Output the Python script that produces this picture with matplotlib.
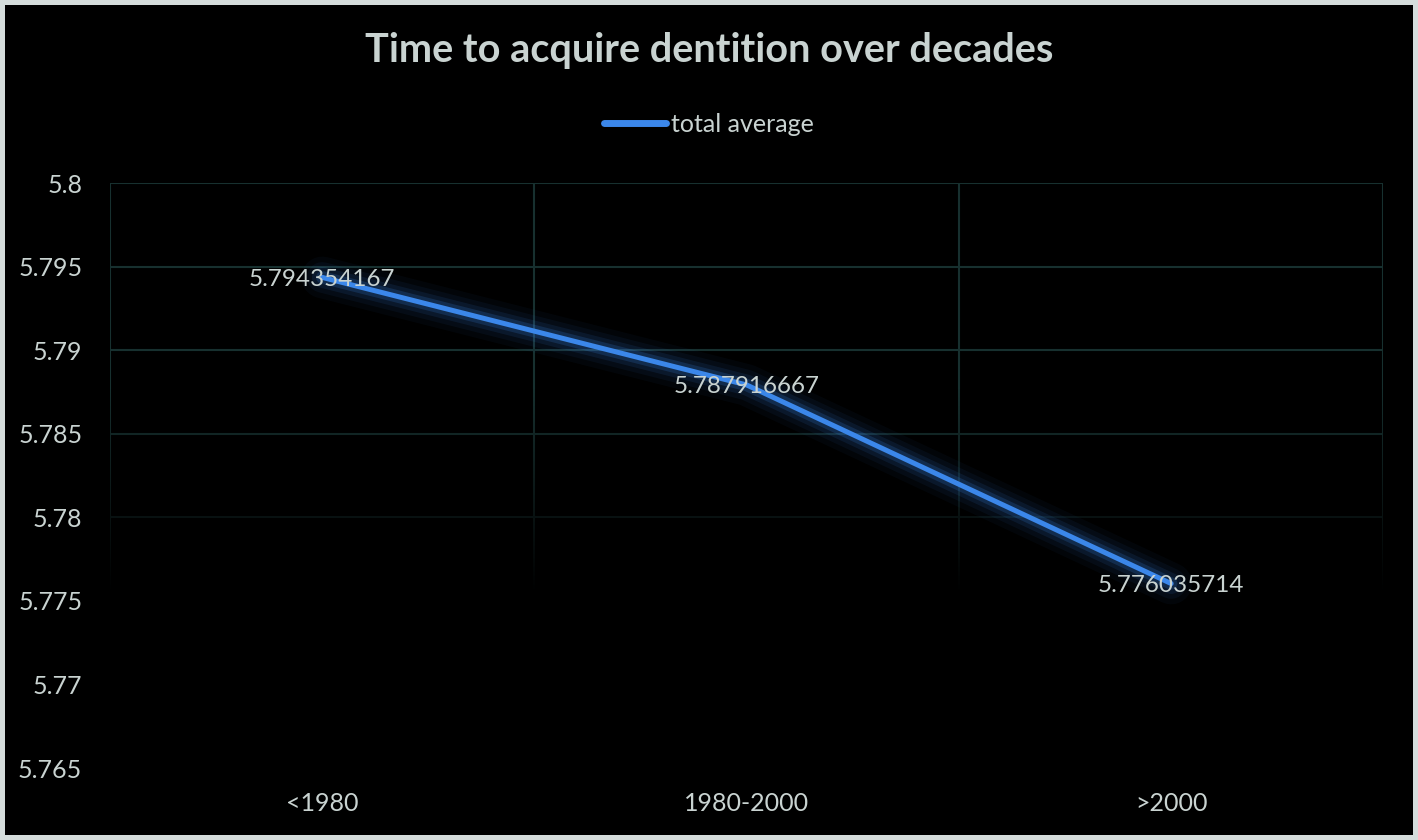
import numpy as np
import matplotlib
matplotlib.use("Agg")
import matplotlib.pyplot as plt

# data
categories = ["<1980", "1980-2000", ">2000"]
total_average = [5.794354167, 5.787916667, 5.776035714]
y_ticks = [5.765, 5.77, 5.775, 5.78, 5.785, 5.79, 5.795, 5.8]
y_tick_labels = ["5.765", "5.77", "5.775", "5.78", "5.785", "5.79", "5.795", "5.8"]

plt.rcParams['font.family'] = ['Lato', 'DejaVu Sans']
txt = '#c9d3d1'
blue = '#3b87ea'

fig = plt.figure(figsize=(14.18, 8.4), dpi=100)
fig.patch.set_facecolor('black')
fig.patch.set_edgecolor('#d5dddc')
fig.patch.set_linewidth(6)

ax = fig.add_axes([0.0776, 0.0857, 0.898, 0.6964])
ax.set_facecolor('black')
x = np.arange(len(categories))

# grid: horizontal at ticks, vertical between categories, fading downward
grid_col = '#17302f'
for t in y_ticks:
    ax.axhline(t, color=grid_col, lw=1.5, zorder=1)
for b in [-0.5, 0.5, 1.5, 2.5]:
    ax.axvline(b, color=grid_col, lw=1.5, zorder=1)
ramp = np.linspace(0, 1, 256)
fade = np.zeros((256, 1, 4))
fade[:, 0, 3] = np.clip((ramp - 0.35) / 0.35, 0, 1)
ax.imshow(fade, extent=[-0.5, 2.5, 5.765, 5.8], aspect='auto', zorder=2,
          interpolation='bilinear', origin='upper')
ax.set_xlim(-0.5, len(categories) - 0.5)
ax.set_ylim(5.765, 5.8)

# glow
for w, a in [(30, 0.04), (22, 0.06), (15, 0.1), (9, 0.18)]:
    ax.plot(x, total_average, color=blue, lw=w, alpha=a, solid_capstyle='round',
            solid_joinstyle='round', zorder=3)
ax.plot(x, total_average, color=blue, lw=3.6, solid_capstyle='round',
        solid_joinstyle='round', zorder=4, label='total average')

for xi, v in zip(x, total_average):
    ax.text(xi, v - 0.0001, f"{v:.9f}", color=txt, fontsize=17.5, ha='center',
            va='center', zorder=5)

ax.set_yticks(y_ticks)
ax.set_yticklabels(y_tick_labels, color=txt, fontsize=18)
ax.set_xticks(x)
ax.set_xticklabels(categories, color=txt, fontsize=18)
ax.tick_params(axis='y', length=0, pad=20)
ax.tick_params(axis='x', length=0, pad=17)
for s in ax.spines.values():
    s.set_visible(False)

fig.text(0.5, 0.94, "Time to acquire dentition over decades", color=txt,
         fontsize=28.5, fontweight='bold', ha='center', va='center')

leg = fig.legend(loc='center', bbox_to_anchor=(0.5, 0.852), frameon=False,
                 fontsize=18, handlelength=2.5, handletextpad=0.2)
for t in leg.get_texts():
    t.set_color(txt)
for h in leg.legend_handles:
    h.set_linewidth(5)

fig.savefig("out.png", dpi=100, facecolor=fig.get_facecolor(),
            edgecolor=fig.get_edgecolor())
